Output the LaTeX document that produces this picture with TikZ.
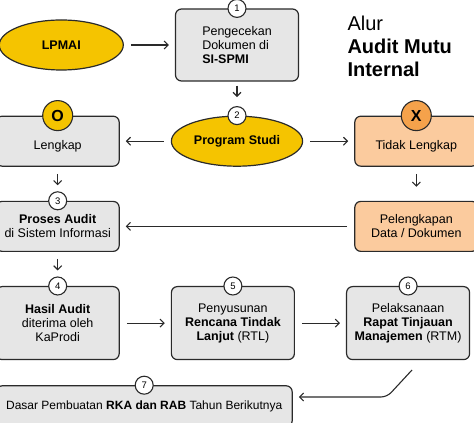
\documentclass[tikz,border=0pt]{standalone}
\usepackage{fontspec}
\setmainfont{Liberation Sans}
\usepackage{xcolor}
\usepackage{tikz}
\usetikzlibrary{arrows.meta,positioning,shapes.geometric}
\definecolor{alurline}{HTML}{2A2A2A}
\definecolor{alurgray}{HTML}{E6E6E6}
\definecolor{aluryellow}{HTML}{F5C400}
\definecolor{alurpeach}{HTML}{FBCB9E}
\definecolor{alurorange}{HTML}{F5A24B}
\tikzset{
  stepbox/.style={draw=alurline,fill=alurgray,rounded corners=6pt,line width=1.2pt,align=center,
    minimum width=123pt,minimum height=50pt,inner sep=2pt,font=\fontsize{12.5}{14}\selectfont},
  missingbox/.style={stepbox,fill=alurpeach},
  unitoval/.style={ellipse,draw=alurline,fill=aluryellow,line width=1.2pt,minimum width=124pt,
    minimum height=50pt,font=\fontsize{12.5}{14}\selectfont\bfseries},
  numbadge/.style={circle,draw=alurline,fill=white,line width=1.1pt,minimum size=18pt,inner sep=0pt,
    font=\fontsize{9.5}{10}\selectfont},
  markbadge/.style={circle,draw=alurline,line width=1.1pt,minimum size=30pt,inner sep=0pt,
    font=\fontsize{16}{16}\selectfont\bfseries},
  flowarrow/.style={-{Straight Barb[length=4pt,width=8pt]},line width=1.1pt,draw=alurline,
    shorten <=7pt,shorten >=6pt}
}
\newcommand{\lowertext}[1]{\raisebox{-5pt}[9pt][3pt]{#1}}

\begin{document}
\begin{tikzpicture}[x=1pt,y=1pt,node distance=34pt and 51pt]
  \useasboundingbox (0,0) rectangle (474,423);
  \node[stepbox,minimum height=72pt,align=left] (cek) at (237,378) {Pengecekan\\Dokumen di\\\textbf{SI-SPMI}};
  \node[unitoval,left=of cek] (lpmai) {LPMAI};
  \node[unitoval,below=of cek] (prodi) {Program Studi};
  \node[stepbox,left=of prodi] (lengkap) {\lowertext{Lengkap}};
  \node[missingbox,right=of prodi] (tidak) {\lowertext{Tidak Lengkap}};
  \node[missingbox,below=of tidak] (lengkapi) {Pelengkapan\\Data / Dokumen};
  \node[stepbox,below=of lengkap] (proses) {\textbf{Proses Audit}\\di Sistem Informasi};
  \node[stepbox,below=of proses,minimum height=73pt] (hasil) {\textbf{Hasil Audit}\\diterima oleh\\KaProdi};
  \node[stepbox,right=of hasil,minimum height=73pt] (rtl) {Penyusunan\\\textbf{Rencana Tindak}\\\textbf{Lanjut} (RTL)};
  \node[stepbox,right=of rtl,minimum height=73pt] (rtm) {Pelaksanaan\\\textbf{Rapat Tinjauan}\\\textbf{Manajemen} (RTM)};
  \node[stepbox,below=25pt of hasil.south west,anchor=north west,minimum width=296pt,minimum height=41pt,
    font=\fontsize{12}{14}\selectfont] (dasar)
    {Dasar Pembuatan \textbf{RKA dan RAB} Tahun Berikutnya};
  \node[anchor=north west,align=left,font=\fontsize{20}{23}\selectfont] (judul) at (344,411)
    {Alur\\\textbf{Audit Mutu}\\\textbf{Internal}};

  \node[numbadge] (n1) at (cek.north) {1};
  \node[numbadge] (n2) at (prodi.north) {2};
  \node[numbadge] (n3) at (proses.north) {3};
  \node[numbadge] (n4) at (hasil.north) {4};
  \node[numbadge] (n5) at (rtl.north) {5};
  \node[numbadge] (n6) at (rtm.north) {6};
  \node[numbadge] (n7) at (dasar.north) {7};
  \node[markbadge,fill=aluryellow] (ok) at (lengkap.north) {O};
  \node[markbadge,fill=alurorange] (no) at (tidak.north) {X};

  \draw[flowarrow] (lpmai) -- (cek);
  \draw[flowarrow,shorten <=4pt,shorten >=9pt] (cek) -- (n2);
  \draw[flowarrow] (prodi) -- (lengkap);
  \draw[flowarrow] (prodi) -- (tidak);
  \draw[flowarrow,shorten >=14pt] (tidak) -- (lengkapi);
  \draw[flowarrow] (lengkap) -- (n3);
  \draw[flowarrow] (lengkapi) -- (proses);
  \draw[flowarrow] (proses) -- (n4);
  \draw[flowarrow] (hasil) -- (rtl);
  \draw[flowarrow] (rtl) -- (rtm);
  \coordinate (rtmtail) at (412,53);
  \coordinate (rtmbend) at (387,26);
  \draw[flowarrow,shorten <=0pt,rounded corners=6pt] (rtmtail) -- (rtmbend) -- (rtmbend -| dasar.east);
\end{tikzpicture}
\end{document}
